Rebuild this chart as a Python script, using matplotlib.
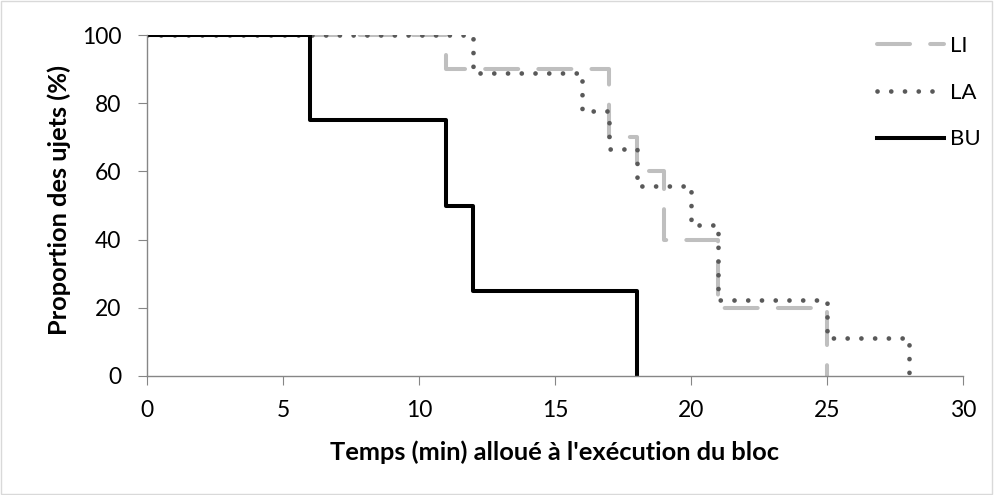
import matplotlib
matplotlib.use("Agg")
import matplotlib.pyplot as plt
from matplotlib.patches import Rectangle

plt.rcParams['font.family'] = ['Lato', 'DejaVu Sans']

# Temps (min) où la proportion change, et proportions correspondantes (%)
li_temps = [0, 11, 17, 18, 19, 21, 25]
li_prop = [100, 90, 70, 60, 40, 20, 0]

la_temps = [0, 12, 16, 17, 18, 20, 21, 25, 28]
la_prop = [100, 88.9, 77.8, 66.7, 55.6, 44.4, 22.2, 11.1, 0]

bu_temps = [0, 6, 11, 12, 18]
bu_prop = [100, 75, 50, 25, 0]

x_ticks = [0, 5, 10, 15, 20, 25, 30]
y_ticks = [0, 20, 40, 60, 80, 100]

fig = plt.figure(figsize=(9.94, 4.95), dpi=100)
ax = fig.add_axes([147 / 994, 1 - 376 / 495, (963 - 147) / 994, (376 - 35) / 495])

ax.step(li_temps, li_prop, where='post', color='#BFBFBF', lw=2.9,
        dashes=(8.2, 5), dash_capstyle='round', label='LI')
ax.step(la_temps, la_prop, where='post', color='#595959', lw=3.4,
        dashes=(0.01, 2.9), dash_capstyle='round', label='LA')
ax.step(bu_temps, bu_prop, where='post', color='black', lw=2.9, label='BU')

ax.set_xlim(0, 30)
ax.set_ylim(0, 100)
ax.set_xticks(x_ticks)
ax.set_yticks(y_ticks)
for s in ['top', 'right']:
    ax.spines[s].set_visible(False)
for s in ['left', 'bottom']:
    ax.spines[s].set_color('#868686')
    ax.spines[s].set_linewidth(1)
ax.tick_params(axis='both', direction='out', length=6.5, color='#868686',
               labelsize=16.5)
ax.tick_params(axis='x', pad=11)
ax.tick_params(axis='y', pad=12)

ax.set_xlabel("Temps (min) alloué à l'exécution du bloc", fontsize=18.3,
              fontweight='bold', labelpad=14)
ax.set_ylabel("Proportion des ujets (%)", fontsize=18.3, fontweight='bold',
              labelpad=8)
ax.yaxis.label.set_y(0.5176)

fig.legend(loc='upper left', bbox_to_anchor=(877 / 994, 1 - 36 / 495),
           frameon=False, fontsize=16, borderpad=0, borderaxespad=0,
           handlelength=3.0, handletextpad=0.3, labelspacing=1.2)

fig.patches.append(Rectangle((0.001, 0.002), 0.997, 0.995, transform=fig.transFigure,
                             fill=False, edgecolor='#D9D9D9', lw=1))

fig.savefig('out.png', dpi=100)
